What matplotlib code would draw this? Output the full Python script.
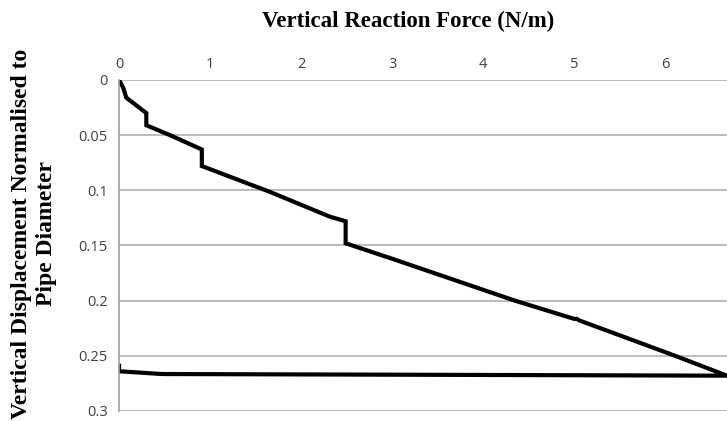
import matplotlib.pyplot as plt
import numpy as np

# Reaction force (N/m) vs normalised displacement
force = [0.0, 0.04, 0.05, 0.08, 0.30, 0.30, 0.56, 0.91, 0.91, 1.66, 2.32, 2.49, 2.49,
         3.0, 4.35, 5.0, 5.03, 5.06, 6.11, 6.68,
         0.47, 0.0, 0.0]
displacement = [0.0, 0.006, 0.008, 0.016, 0.030, 0.041, 0.050, 0.063, 0.078, 0.1015, 0.124, 0.128, 0.148,
                0.162, 0.200, 0.2165, 0.2165, 0.218, 0.250, 0.268,
                0.2665, 0.264, 0.259]

y_ticks = [0, 0.05, 0.1, 0.15, 0.2, 0.25, 0.3]
y_tick_labels = ['0', '0.05', '0.1', '0.15', '0.2', '0.25', '0.3']
x_ticks = [0, 1, 2, 3, 4, 5, 6]

fig = plt.figure(figsize=(7.27, 4.21), dpi=100)
ax = fig.add_axes([0.1637, 0.0238, 0.8363, 0.7862])

ax.plot(force, displacement, color='black', linewidth=3.0, solid_joinstyle='miter')

ax.set_xlim(0, 6.68)
ax.set_ylim(0.3, 0)
ax.xaxis.tick_top()
ax.set_xticks(x_ticks)
ax.set_yticks(y_ticks)
ax.set_yticklabels(y_tick_labels)
ax.tick_params(length=0, labelsize=10.5, labelcolor='#404040', pad=8)
ax.tick_params(axis='x', pad=6)
for lbl in ax.get_xticklabels() + ax.get_yticklabels():
    lbl.set_family('Open Sans')

ax.grid(axis='y', color='#b0b0b0', linewidth=1.2)
ax.set_axisbelow(True)
for s in ['top', 'right', 'bottom']:
    ax.spines[s].set_visible(False)
ax.spines['left'].set_color('#a0a0a0')
ax.spines['left'].set_linewidth(1.2)

fig.text(0.561, 0.95, 'Vertical Reaction Force (N/m)', ha='center', va='center',
         family='Liberation Serif', fontweight='bold', fontsize=16.5)
fig.text(0.047, 0.445, 'Vertical Displacement Normalised to\nPipe Diameter', ha='center', va='center',
         rotation=90, family='Liberation Serif', fontweight='bold', fontsize=17, linespacing=1.25)

fig.savefig('out.png', dpi=100)
